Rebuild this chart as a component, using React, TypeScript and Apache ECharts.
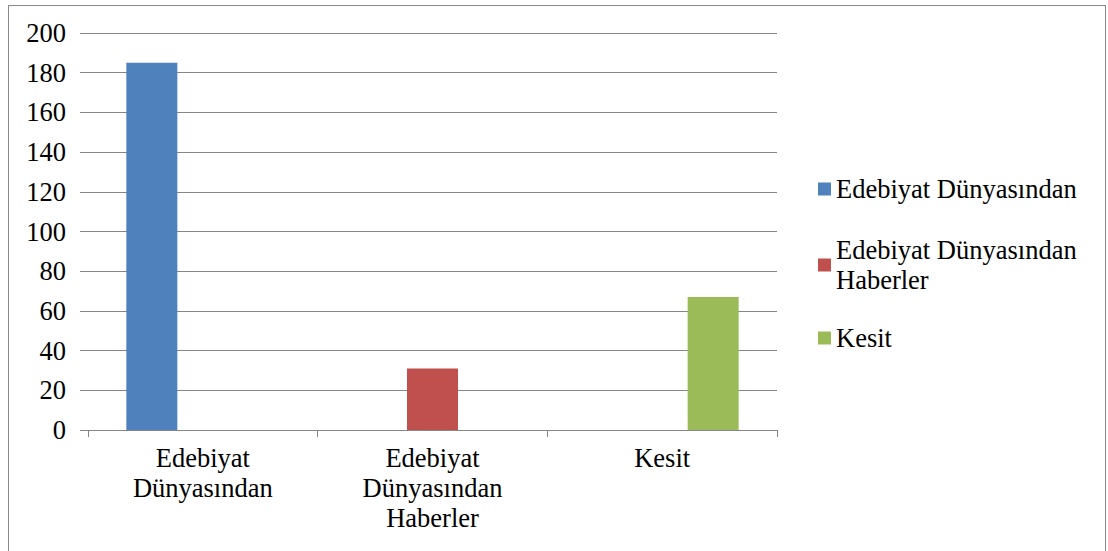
import React, { useEffect, useRef } from "react";
import * as echarts from "echarts";

const categories = ["Edebiyat\nDünyasından", "Edebiyat\nDünyasından\nHaberler", "Kesit"];
const seriesNames = ["Edebiyat Dünyasından", "Edebiyat Dünyasından\nHaberler", "Kesit"];
const seriesValues: (number | null)[][] = [
  [185, null, null],
  [null, 31, null],
  [null, null, 67],
];
const seriesColors = ["#4F81BD", "#C0504D", "#9BBB59"];
const yMin = 0;
const yMax = 200;
const yInterval = 20;

const FONT = "Liberation Serif";
const FONT_SIZE = 26.5;
const GRID_COLOR = "#868686";

export default function App() {
  const ref = useRef<HTMLDivElement>(null);
  useEffect(() => {
    if (!ref.current) return;
    const chart = echarts.init(ref.current, undefined, { renderer: "svg" });
    const legendTops = [174, 220, 323];
    chart.setOption({
      animation: false,
      grid: { left: 88, right: 331, top: 33, bottom: 121 },
      xAxis: {
        type: "category",
        data: categories,
        axisLine: { show: true, lineStyle: { color: GRID_COLOR, width: 1 } },
        axisTick: { show: true, length: 7, lineStyle: { color: GRID_COLOR } },
        axisLabel: {
          fontFamily: FONT,
          fontSize: FONT_SIZE,
          color: "#000",
          lineHeight: 30,
          margin: 13,
          interval: 0,
        },
        splitLine: { show: false },
      },
      yAxis: {
        type: "value",
        min: yMin,
        max: yMax,
        interval: yInterval,
        axisLine: { show: false },
        axisTick: { show: true, length: 8, lineStyle: { color: GRID_COLOR } },
        axisLabel: { fontFamily: FONT, fontSize: FONT_SIZE, color: "#000", margin: 22 },
        splitLine: { show: true, lineStyle: { color: GRID_COLOR, width: 1 } },
      },
      legend: seriesNames.map((name, i) => {
        const textStyle: any = {
          fontFamily: FONT,
          fontSize: FONT_SIZE,
          color: "#000",
          lineHeight: 30,
        };
        if (i === 1) textStyle.padding = [30, 0, 0, 0];
        return {
          data: [name],
          left: 818,
          top: legendTops[i],
          padding: 0,
          itemWidth: 13,
          itemHeight: 13,
          selectedMode: false,
          icon: "rect",
          textStyle,
        };
      }),
      series: seriesNames.map((name, i) => ({
        name,
        type: "bar",
        data: seriesValues[i],
        barWidth: 51,
        barGap: "0%",
        itemStyle: { color: seriesColors[i] },
      })),
    });
    return () => chart.dispose();
  }, []);
  return (
    <div style={{ position: "fixed", left: 0, top: 0, width: 1108, height: 551, background: "#fff", overflow: "hidden" }}>
      <div ref={ref} style={{ position: "absolute", left: 0, top: 0, width: 1108, height: 551 }} />
      <div
        style={{
          position: "absolute",
          left: 8,
          top: 5,
          width: 1096,
          height: 600,
          border: "1.5px solid #898989",
          pointerEvents: "none",
        }}
      />
    </div>
  );
}
